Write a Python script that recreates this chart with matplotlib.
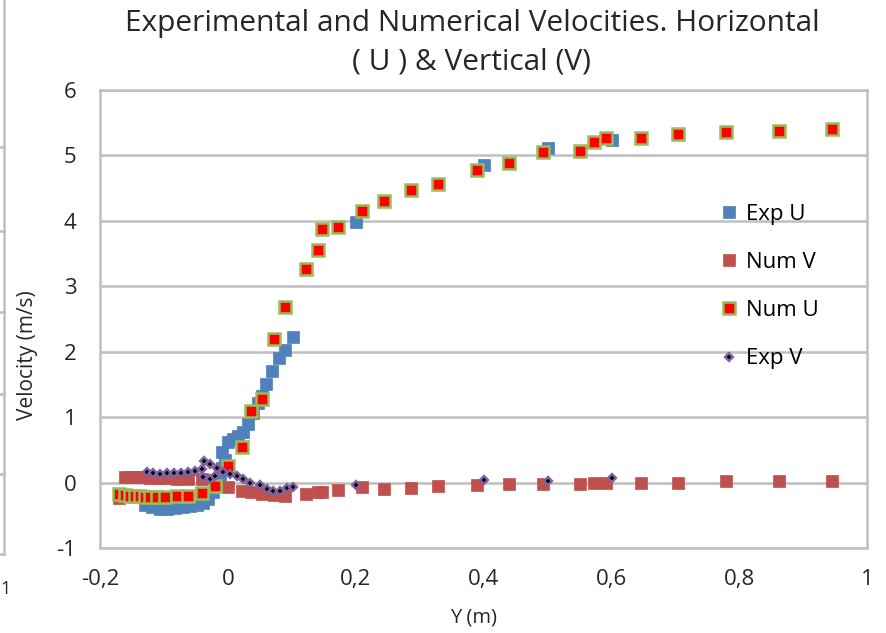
import matplotlib
matplotlib.use('Agg')
import matplotlib.pyplot as plt
from matplotlib.lines import Line2D
from matplotlib.ticker import FuncFormatter

# experimental U
exp_u_x = [-0.130, -0.119, -0.106, -0.095, -0.083, -0.070, -0.059, -0.048, -0.039, -0.031,
           -0.023, -0.017, -0.012, -0.009, -0.009, -0.004, 0.000, 0.008, 0.016, 0.024,
           0.032, 0.039, 0.047, 0.054, 0.060, 0.069, 0.080, 0.090, 0.102,
           0.200, 0.401, 0.501, 0.601]
exp_u_y = [-0.35, -0.38, -0.40, -0.40, -0.39, -0.37, -0.36, -0.35, -0.31, -0.25,
           -0.15, -0.02, 0.10, 0.23, 0.46, 0.35, 0.62, 0.66, 0.71, 0.78,
           0.89, 1.07, 1.21, 1.32, 1.50, 1.70, 1.91, 2.03, 2.22,
           3.98, 4.85, 5.11, 5.23]

# numerical grid (U and V)
num_x = [-0.170, -0.161, -0.153, -0.145, -0.137, -0.130, -0.122, -0.111, -0.098, -0.080,
         -0.062, -0.040, -0.020, 0.000, 0.022, 0.036, 0.054, 0.072, 0.090, 0.122,
         0.141, 0.147, 0.172, 0.210, 0.244, 0.287, 0.329, 0.390, 0.440, 0.493,
         0.551, 0.573, 0.592, 0.647, 0.704, 0.780, 0.863, 0.946]
num_v = [-0.23, 0.08, 0.08, 0.08, 0.08, 0.08, 0.07, 0.07, 0.07, 0.06,
         0.06, 0.05, -0.04, -0.07, -0.13, -0.15, -0.17, -0.19, -0.20, -0.17,
         -0.14, -0.15, -0.12, -0.07, -0.10, -0.09, -0.05, -0.04, -0.02, -0.02,
         -0.02, 0.00, 0.00, 0.00, 0.00, 0.02, 0.02, 0.02]
num_u = [-0.18, -0.19, -0.20, -0.21, -0.21, -0.22, -0.22, -0.22, -0.22, -0.21,
         -0.20, -0.16, -0.05, 0.26, 0.55, 1.10, 1.28, 2.20, 2.68, 3.26,
         3.55, 3.87, 3.90, 4.15, 4.30, 4.47, 4.57, 4.78, 4.88, 5.05,
         5.07, 5.21, 5.27, 5.27, 5.33, 5.36, 5.38, 5.40]

# experimental V
exp_v_x = [-0.126, -0.117, -0.106, -0.095, -0.084, -0.073, -0.062, -0.051, -0.040, -0.037,
           -0.028, -0.017, -0.039, -0.028, -0.020, -0.008, 0.003, 0.014, 0.024, 0.035,
           0.050, 0.061, 0.071, 0.082, 0.093, 0.102, 0.200, 0.401, 0.501, 0.601]
exp_v_y = [0.16, 0.14, 0.13, 0.14, 0.14, 0.14, 0.16, 0.17, 0.20, 0.33,
           0.28, 0.23, 0.08, 0.05, 0.10, 0.16, 0.13, 0.10, 0.05, 0.00,
           -0.04, -0.10, -0.13, -0.13, -0.09, -0.07, -0.03, 0.04, 0.02, 0.07]

plt.rcParams['axes.unicode_minus'] = False
font = 'Open Sans'
grey = '#BFBFBF'
txt = '#262626'

fig = plt.figure(figsize=(8.86, 6.33), dpi=100)
ax = fig.add_axes([100 / 886, 1 - 548 / 633, 767 / 886, 458 / 633])

ax.plot(exp_u_x, exp_u_y, 's', color='#4F81BD', ms=8.5, mec='#4F81BD', mew=0.5, label='Exp U', zorder=3)
ax.plot(num_x, num_v, 's', color='#C0504D', ms=8.5, mec='#C0504D', mew=0.5, label='Num V', zorder=4)
ax.plot(num_x, num_u, 's', color='#FF0000', ms=8, mec='#9BBB59', mew=1.8, label='Num U', zorder=5)
ax.plot(exp_v_x, exp_v_y, 'D', color='black', ms=4.5, mec='#8064A2', mew=1.7, label='Exp V', zorder=6)

ax.set_xlim(-0.2, 1)
ax.set_ylim(-1, 6)
ax.set_xticks([-0.2, 0, 0.2, 0.4, 0.6, 0.8, 1])
ax.set_yticks(range(-1, 7))
ax.xaxis.set_major_formatter(FuncFormatter(lambda v, p: ('%g' % round(v, 1)).replace('.', ',')))
ax.tick_params(length=0, labelsize=16, colors=txt)
ax.tick_params(axis='y', pad=17)
ax.tick_params(axis='x', pad=15)
for lab in ax.get_xticklabels() + ax.get_yticklabels():
    lab.set_family(font)
ax.yaxis.grid(True, color=grey, lw=1.8)
ax.set_axisbelow(True)
for s in ax.spines.values():
    s.set_color(grey)
    s.set_linewidth(1.8)

fig.text(474 / 886, 1 - 617 / 633, 'Y (m)', family=font, fontsize=14.5, color=txt, ha='center', va='center')
fig.text(27 / 886, 1 - 355 / 633, 'Velocity (m/s)', rotation=90, family=font, fontsize=15,
         color=txt, ha='center', va='center')
fig.text(472 / 886, 1 - 43 / 633, 'Experimental and Numerical Velocities. Horizontal\n( U ) & Vertical (V)',
         family=font, fontsize=21.5, color=txt, ha='center', va='center', linespacing=1.45)

leg = ax.legend(loc='upper left', bbox_to_anchor=(692 / 886, 1 - 184 / 633), bbox_transform=fig.transFigure,
                frameon=False, labelspacing=1.22, handletextpad=0.05, handlelength=1.5,
                prop={'family': font, 'size': 16})

# edge of the neighbouring chart, cut off at the left
fig.add_artist(Line2D([3.5 / 886, 3.5 / 886], [1 - 554 / 633, 1], color=grey, lw=1.8))
for yy in [147, 231, 312, 394, 474, 554]:
    fig.add_artist(Line2D([0, 3.5 / 886], [1 - yy / 633, 1 - yy / 633], color=grey, lw=1.8))
fig.text(0, 1 - 589 / 633, '1', family=font, fontsize=13, color=txt, va='center')

fig.savefig('out.png', dpi=100)
